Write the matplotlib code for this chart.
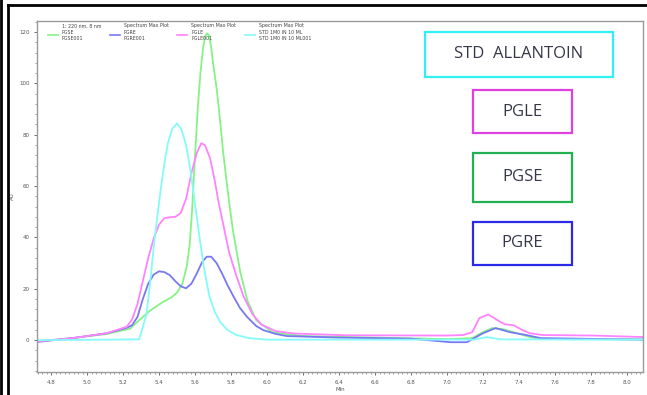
import numpy as np
import matplotlib.pyplot as plt
from matplotlib.patches import Rectangle
from matplotlib.lines import Line2D
from matplotlib.ticker import MultipleLocator

# retention time (min) / response
pgse_x = [4.72, 4.92, 5.11, 5.24, 5.29, 5.35, 5.42, 5.47, 5.5, 5.53, 5.555, 5.57, 5.585, 5.60,
          5.615, 5.63, 5.645, 5.657, 5.667, 5.677, 5.69, 5.70, 5.72, 5.74, 5.755, 5.78, 5.81,
          5.85, 5.89, 5.94, 6.03, 6.2, 6.6, 7.0, 7.14, 7.2, 7.25, 7.31, 7.39, 7.46, 7.53, 8.09]
pgse_y = [-0.5, 0.8, 2.4, 4.5, 7.8, 11.5, 14.8, 16.7, 18.5, 22, 29, 37, 52, 72,
          90, 104, 114, 118.5, 119.5, 118.8, 114, 108, 98, 85, 74, 59, 43,
          27, 15.6, 7.8, 3.1, 1.6, 1.0, 0.4, 0.8, 3.1, 4.7, 4.3, 2.7, 1.2, 0.4, 0.3]

pgre_x = [4.72, 4.92, 5.11, 5.22, 5.25, 5.28, 5.31, 5.34, 5.37, 5.40, 5.43, 5.46, 5.49, 5.52,
          5.55, 5.58, 5.61, 5.64, 5.665, 5.69, 5.72, 5.75, 5.78, 5.81, 5.85, 5.89, 5.94, 5.98,
          6.05, 6.11, 6.4, 6.8, 7.02, 7.11, 7.2, 7.27, 7.35, 7.44, 7.52, 8.09]
pgre_y = [-0.7, 0.8, 2.7, 4.8, 5.8, 9, 16, 22, 25.5, 26.8, 26.5, 25.3, 23, 21,
          20.2, 22, 26, 30.5, 32.5, 32.5, 30, 26, 21.5, 17.5, 12.5, 9, 5.5, 3.9,
          2.4, 1.6, 1.0, 0.6, -0.8, -0.8, 2.7, 4.7, 3.1, 2.0, 0.8, 0.2]

pgle_x = [4.72, 4.92, 5.11, 5.22, 5.25, 5.28, 5.31, 5.34, 5.37, 5.40, 5.43, 5.46, 5.49, 5.52,
          5.55, 5.58, 5.61, 5.635, 5.655, 5.683, 5.71, 5.73, 5.76, 5.79, 5.83, 5.87, 5.92,
          5.97, 6.05, 6.15, 6.44, 7.0, 7.09, 7.14, 7.18, 7.23, 7.28, 7.32, 7.37, 7.42, 7.46,
          7.53, 7.81, 8.09]
pgle_y = [-0.5, 0.8, 2.7, 5.2, 8, 14, 23, 32, 39.5, 45, 47.5, 47.9, 48, 49.5,
          55, 65, 73, 76.7, 76, 71, 62, 54, 44, 34, 25, 17, 10,
          6, 3.5, 2.6, 1.9, 1.8, 2.0, 3.1, 8.6, 10, 7.8, 6.2, 5.8, 3.9, 2.7,
          2.0, 1.8, 1.2]

std_x = [4.72, 5.29, 5.33, 5.35, 5.37, 5.39, 5.41, 5.43, 5.45, 5.475, 5.5, 5.525, 5.55, 5.575,
         5.60, 5.625, 5.65, 5.68, 5.71, 5.74, 5.78, 5.83, 5.9, 6.0, 7.15, 7.22, 7.3, 8.09]
std_y = [0, 0.3, 10, 22, 36, 48, 59, 69, 77, 82.5, 84.4, 82, 76, 66,
         53, 40, 28, 17, 11, 7, 4, 2, 0.8, 0.2, 0.2, 1.2, 0.3, 0.2]

legend_head = ["1: 220 nm, 8 nm", "Spectrum Max Plot", "Spectrum Max Plot", "Spectrum Max Plot"]
legend_l2 = ["PGSE", "PGRE", "PGLE", "STD 1M0 IN 10 ML"]
legend_l3 = ["PGSE001", "PGRE001", "PGLE001", "STD 1M0 IN 10 ML001"]
series = [(pgse_x, pgse_y), (pgre_x, pgre_y), (pgle_x, pgle_y), (std_x, std_y)]
colors = ["#86f286", "#7878f2", "#ff82ff", "#84fafa"]

box_labels = ["STD  ALLANTOIN", "PGLE", "PGSE", "PGRE"]
box_colors = ["#2ef2f2", "#e040e0", "#22b050", "#2a2ae8"]

W, H = 647, 395
fig = plt.figure(figsize=(W / 100, H / 100), dpi=100)
ax = fig.add_axes([37 / W, (H - 372) / H, (643 - 37) / W, (372 - 21) / H])

for (x, y), c in zip(series, colors):
    ax.plot(x, y, color=c, lw=1.3, solid_joinstyle="round")

ax.set_xlim(4.722, 8.089)
ax.set_ylim(-12.4, 124.3)
ax.set_xticks(np.round(np.arange(4.8, 8.01, 0.2), 1))
ax.set_yticks(range(0, 121, 20))
ax.xaxis.set_minor_locator(MultipleLocator(0.025))
ax.yaxis.set_minor_locator(MultipleLocator(4))
ax.tick_params(labelsize=4, colors="#555555", length=2, width=0.6)
ax.tick_params(which="minor", length=1.2, width=0.5, colors="#777777")
for s in ax.spines.values():
    s.set_color("#9a9a9a")
    s.set_linewidth(1.0)
ax.set_xlabel("Min", fontsize=4, color="#555555", labelpad=2)
ax.set_ylabel("AU", fontsize=4, color="#555555", labelpad=3)

# in-plot legend, four columns
leg_x = [48, 110, 177, 245]
for i in range(4):
    lx = leg_x[i]
    fig.add_artist(Line2D([lx / W, (lx + 10) / W], [1 - 35 / H, 1 - 35 / H],
                          transform=fig.transFigure, color=colors[i], lw=1.2))
    for j, t in enumerate([legend_head[i], legend_l2[i], legend_l3[i]]):
        fig.text((lx + 14) / W, 1 - (26 + 6 * j) / H, t, fontsize=3.4, color="#444444",
                 va="center", ha="left")

# sample boxes on the right
boxes = [(425, 32, 188, 45), (473, 90, 99, 43), (473, 153, 99, 49), (473, 222, 99, 43)]
for (bx, by, bw, bh), lab, c in zip(boxes, box_labels, box_colors):
    fig.add_artist(Rectangle((bx / W, 1 - (by + bh) / H), bw / W, bh / H,
                             transform=fig.transFigure, fill=False, edgecolor=c, lw=1.6))
    fig.text((bx + bw / 2) / W, 1 - (by + bh / 2) / H, lab, fontsize=12, color="#36384a",
             ha="center", va="center", family="Open Sans")

# outer black frame of the screenshot
fig.add_artist(Line2D([8 / W, 1], [1 - 5 / H, 1 - 5 / H], transform=fig.transFigure,
                      color="black", lw=2))
fig.add_artist(Line2D([8 / W, 8 / W], [0, 1 - 5 / H], transform=fig.transFigure,
                      color="black", lw=2))
fig.add_artist(Line2D([1 / W, 1 / W], [0, 1], transform=fig.transFigure,
                      color="black", lw=2))

fig.savefig("out.png", dpi=100)
